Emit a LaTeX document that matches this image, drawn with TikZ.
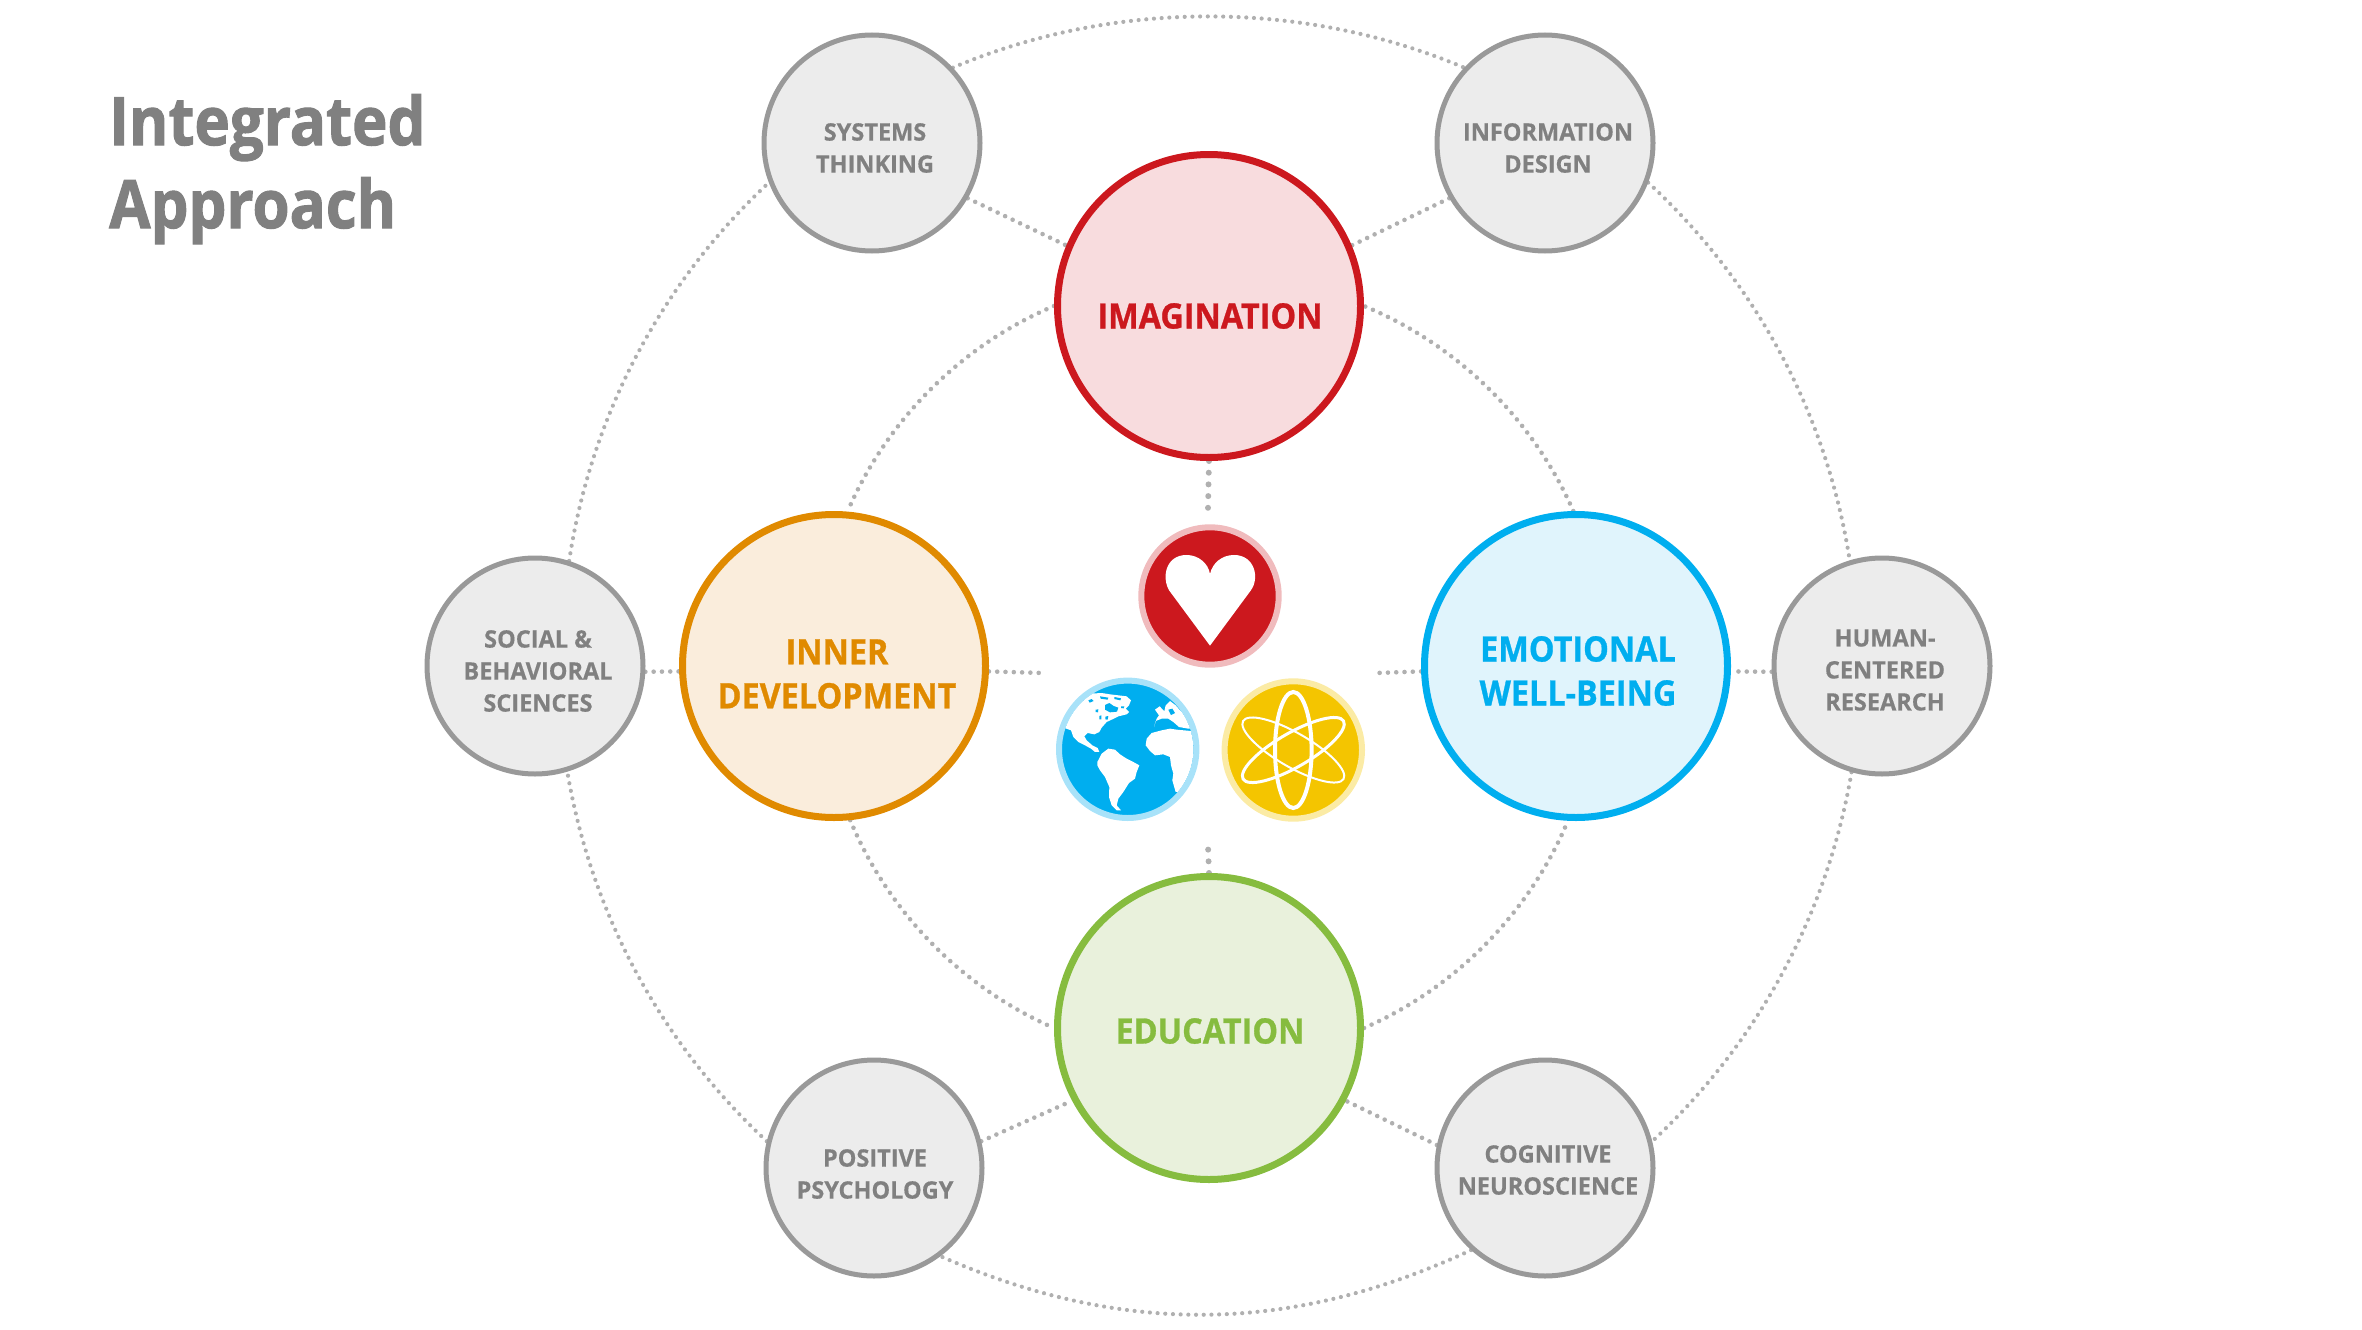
\documentclass[tikz,border=0pt]{standalone}
\usepackage{fontspec}
\setmainfont{Open Sans}
\newfontfamily\titlefont[BoldFeatures={FakeStretch=.895,FakeBold=1.5}]{Open Sans}
\newfontfamily\bigfont[BoldFeatures={FakeStretch=.925,FakeBold=.8}]{Open Sans}
\newfontfamily\smallfont[BoldFeatures={FakeStretch=.98,FakeBold=.5}]{Open Sans}
\usetikzlibrary{positioning, backgrounds}

\definecolor{grayline}{HTML}{999999}
\definecolor{grayfill}{HTML}{ECECEC}
\definecolor{graytext}{HTML}{808080}
\definecolor{dotcol}{HTML}{B0B0B0}
\definecolor{redline}{HTML}{CC181E}
\definecolor{redfill}{HTML}{F8DCDE}
\definecolor{redring}{HTML}{F0BBBD}
\definecolor{orangeline}{HTML}{E08A00}
\definecolor{orangefill}{HTML}{FAEDDC}
\definecolor{blueline}{HTML}{00AEEF}
\definecolor{bluefill}{HTML}{E0F4FC}
\definecolor{bluering}{HTML}{A8E2F9}
\definecolor{greenline}{HTML}{86BC3F}
\definecolor{greenfill}{HTML}{E9F1DC}
\definecolor{yellowfill}{HTML}{F4C500}
\definecolor{yellowring}{HTML}{FBEBA5}

\tikzset{
  small/.style={circle,draw=grayline,fill=grayfill,line width=5pt,minimum size=216pt,inner sep=0pt},
  big/.style={circle,line width=7pt,minimum size=303pt,inner sep=0pt},
  icon/.style={circle,line width=6pt,minimum size=137.4pt,inner sep=0pt},
  smalltext/.style={align=center,text=graytext,font=\smallfont\fontsize{24}{32}\selectfont\bfseries},
  bigtext/.style={align=center,font=\bigfont\fontsize{35}{44}\selectfont\bfseries},
  ring/.style={dotcol,line width=4.2pt,line cap=round,dash pattern=on 0pt off 7.7pt,looseness=.88},
  link/.style={dotcol,line width=4.6pt,line cap=round,dash pattern=on 0pt off 8.3pt},
  stub/.style={dotcol,line width=6pt,line cap=round,dash pattern=on 0pt off 11.7pt}
}

\begin{document}
\begin{tikzpicture}[x=1pt,y=-1pt]
  \useasboundingbox (0,0) rectangle (2362,1330);

  \node[align=left,anchor=north west,text=graytext,inner sep=0pt,font=\titlefont\fontsize{67}{83}\selectfont\bfseries] (title) at (109,94) {Integrated\\Approach};

  % big circles
  \node[big,draw=redline,fill=redfill] (imag) at (1209,306) {};
  \node[big,draw=orangeline,fill=orangefill] (inner) at (834,666) {};
  \node[big,draw=blueline,fill=bluefill] (emot) at (1576,666) {};
  \node[big,draw=greenline,fill=greenfill] (edu) at (1209,1028) {};
  \node[bigtext,text=redline] (imagT) at (1210,316) {IMAGINATION};
  \node[bigtext,text=orangeline] (innerT) at (837,674) {INNER\\DEVELOPMENT};
  \node[bigtext,text=blueline] (emotT) at (1578,671) {EMOTIONAL\\WELL-BEING};
  \node[bigtext,text=greenline] (eduT) at (1210,1031) {EDUCATION};

  % small circles
  \node[small] (sys) at (872,143) {};
  \node[small] (info) at (1545,143) {};
  \node[small] (soc) at (535,666) {};
  \node[small] (hum) at (1882,666) {};
  \node[small] (pos) at (874,1168) {};
  \node[small] (cog) at (1545,1168) {};
  \node[smalltext] (sysT) at (875,148) {SYSTEMS\\THINKING};
  \node[smalltext] (infoT) at (1548,148) {INFORMATION\\DESIGN};
  \node[smalltext] (socT) at (538,671) {SOCIAL \&\\BEHAVIORAL\\SCIENCES};
  \node[smalltext] (humT) at (1885,670) {HUMAN-\\CENTERED\\RESEARCH};
  \node[smalltext] (posT) at (875,1174) {POSITIVE\\PSYCHOLOGY};
  \node[smalltext] (cogT) at (1548,1170) {COGNITIVE\\NEUROSCIENCE};

  % icons
  \node[icon,draw=redring,fill=redline] (heart) at (1210,596) {};
  \node[icon,draw=bluering,fill=blueline] (globe) at (1127.7,749.3) {};
  \node[icon,draw=yellowring,fill=yellowfill] (atom) at (1293.3,750) {};

  \begin{scope}[shift={(1030,470)},x=.3333pt,y=-.3333pt]
    \fill[white] (540,527) -- (418,362) .. controls (395,325) and (405,255) .. (470,255)
      .. controls (505,255) and (535,280) .. (540,312)
      .. controls (547,280) and (575,255) .. (612,255)
      .. controls (675,255) and (690,325) .. (662,362) -- cycle;
  \end{scope}

  \draw[white,line width=4pt] (atom) ellipse [x radius=18.3,y radius=58];
  \draw[white,line width=3pt,rotate around={30:(atom)}] (atom) ellipse [x radius=58,y radius=17];
  \draw[white,line width=2pt,rotate around={-30:(atom)}] (atom) ellipse [x radius=58,y radius=17];

  \begin{scope}[shift={(1055,677)},x=.3333pt,y=-.3333pt]
    \clip (218,217) circle [radius=197];
    % north america
    \fill[white] (20,150) -- (48,160) -- (55,180) -- (70,195) -- (90,205) -- (108,215) -- (120,225) -- (133,225)
      -- (128,213) -- (112,205) -- (95,190) -- (88,178) -- (98,168) -- (118,172) -- (133,165) -- (140,152)
      -- (155,135) -- (170,128) -- (190,118) -- (215,112) -- (222,105) -- (212,95) -- (222,85) -- (228,70)
      -- (215,58) -- (190,55) -- (165,52) -- (140,48) -- (105,50) -- (50,90) -- cycle;
    \fill[blueline] (150,84) -- (163,78) -- (176,87) -- (190,92) -- (186,104) -- (165,106) -- (150,98) -- cycle;
    \fill[blueline] (100,70) -- (110,66) -- (116,72) -- (104,77) -- cycle;
    \fill[blueline] (122,98) -- (130,97) -- (129,106) -- (122,105) -- cycle;
    \fill[blueline] (133,117) -- (139,115) -- (139,127) -- (133,127) -- cycle;
    \fill[blueline] (151,119) -- (160,117) -- (158,128) -- (151,127) -- cycle;
    \fill[blueline] (135,58) -- (160,62) -- (158,68) -- (137,65) -- cycle;
    \fill[blueline] (178,60) -- (198,64) -- (196,70) -- (178,66) -- cycle;
    \fill[blueline] (198,88) -- (208,88) -- (206,94) -- (198,93) -- cycle;
    % south america
    \fill[white] (127,255) -- (140,230) -- (160,215) -- (180,218) -- (195,232) -- (215,245) -- (235,255) -- (253,265)
      -- (245,285) -- (240,305) -- (222,318) -- (205,345) -- (190,365) -- (185,385) -- (198,400) -- (185,400)
      -- (170,385) -- (162,360) -- (163,330) -- (150,300) -- (135,280) -- (127,265) -- cycle;
    % africa
    \fill[white] (272,205) -- (275,185) -- (290,168) -- (320,160) -- (345,155) -- (365,158) -- (440,165) -- (440,345)
      -- (362,345) -- (352,310) -- (355,290) -- (348,265) -- (345,240) -- (325,232) -- (300,235) -- (285,222) -- cycle;
    % europe
    \fill[white] (297,150) -- (302,132) -- (320,125) -- (340,125) -- (355,135) -- (372,150) -- (400,155)
      -- (440,150) -- (440,120) -- (395,112) -- (375,100) -- (362,85) -- (345,72) -- (332,85) -- (328,103)
      -- (314,88) -- (300,98) -- (312,115) -- (305,125) -- cycle;
    \fill[blueline] (340,98) -- (352,95) -- (360,108) -- (348,114) -- cycle;
  \end{scope}

  \coordinate (stubN) at (1208,508);
  \coordinate (stubS) at (1208,846);
  \coordinate (stubW) at (1043,673);
  \coordinate (stubE) at (1376,673);

  % dotted connectors behind everything
  \begin{scope}[on background layer]
    \draw[ring] (sys.43) to[bend left=22.9] (info.137);
    \draw[ring] (info.-21.7) to[bend left=19.2] (hum.107.4);
    \draw[ring] (hum.-106.7) to[bend left=18.7] (cog.14);
    \draw[ring,looseness=.96] (cog.228) to[bend left=24.3] (pos.-53);
    \draw[ring] (pos.166) to[bend left=18.7] (soc.-73.3);
    \draw[ring] (soc.72.6) to[bend left=19.2] (sys.201.7);

    \draw[link,looseness=.88] (imag.180) to[bend right=21.9] (inner.85.5);
    \draw[link,looseness=.88] (inner.-84) to[bend right=21.9] (edu.180);
    \draw[link,looseness=.88] (edu.0) to[bend right=21.9] (emot.-93);
    \draw[link,looseness=.88] (emot.91.5) to[bend right=21.9] (imag.0);

    \draw[link] (sys.-30) -- (imag.157.5);
    \draw[link] (info.210) -- (imag.23);
    \draw[link] (pos.14) -- (edu.208);
    \draw[link] (cog.168) -- (edu.-28.7);
    \draw[link] (soc.-3.7) -- (inner.182.6);
    \draw[link] (hum.183.7) -- (emot.-2.6);
    \draw[link] (inner.-2.6) -- (stubW);
    \draw[link] (emot.182.6) -- (stubE);
    \draw[stub] (imag.-90) -- (stubN);
    \draw[stub] (edu.90) -- (stubS);
  \end{scope}
\end{tikzpicture}
\end{document}
